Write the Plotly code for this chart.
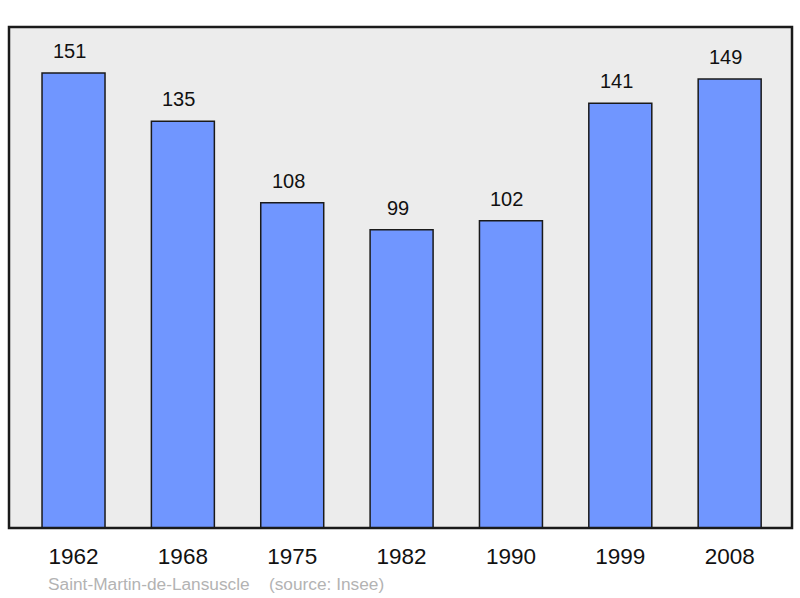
import plotly.graph_objects as go

years = ["1962", "1968", "1975", "1982", "1990", "1999", "2008"]
population = [151, 135, 108, 99, 102, 141, 149]
commune = "Saint-Martin-de-Lansuscle"
source = "(source: Insee)"

xs = list(range(len(years)))

fig = go.Figure()
fig.add_trace(go.Bar(
    x=xs, y=population,
    width=0.576,
    marker=dict(color="#7096ff", line=dict(color="#1a1a1a", width=1.5)),
    hoverinfo="skip",
))

# value labels above the bars (sit a bit left of centre in the original)
for xv, v in zip(xs, population):
    fig.add_annotation(x=xv, y=v, text=str(v), showarrow=False,
                       yanchor="middle", yshift=22, xshift=-4,
                       font=dict(family="Liberation Sans", size=20, color="#111111"))

fig.update_layout(
    width=800, height=598,
    margin=dict(l=9, r=8, t=27, b=70),
    paper_bgcolor="white",
    plot_bgcolor="#ececec",
    showlegend=False,
    font=dict(family="Liberation Sans"),
    xaxis=dict(
        range=[-0.59, 6.57],
        tickmode="array", tickvals=xs, ticktext=years,
        tickfont=dict(size=22.5, color="#111111"),
        ticklabelstandoff=12,
        showgrid=False, zeroline=False, ticks="", ticklen=0,
    ),
    yaxis=dict(range=[0, 166.3], visible=False, showgrid=False, zeroline=False),
)

fig.add_shape(type="rect", xref="paper", yref="paper", x0=0, y0=0, x1=1, y1=1,
              line=dict(color="#1a1a1a", width=2.5))

fig.add_annotation(
    xref="paper", yref="paper", x=(46 - 9) / 783, y=-0.112,
    xanchor="left", yanchor="middle", showarrow=False,
    text=commune + "&nbsp;&nbsp;&nbsp;&nbsp;" + source,
    font=dict(family="Liberation Sans", size=17.3, color="#b3b3b3"),
)

fig.write_html("out.html", config={"displayModeBar": False},
               post_script="document.body.style.margin='0';")
